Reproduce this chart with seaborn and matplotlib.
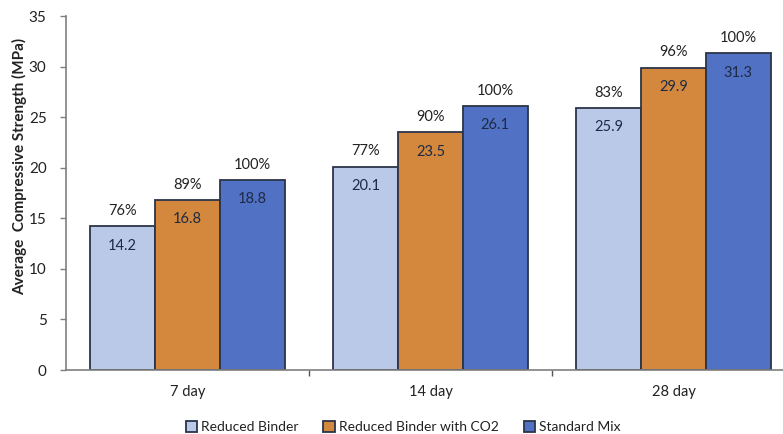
import matplotlib
matplotlib.use("Agg")
import matplotlib.pyplot as plt
import seaborn as sns
import pandas as pd

# Compressive strength results by curing age and mix design
ages = ["7 day", "14 day", "28 day"]
mixes = ["Reduced Binder", "Reduced Binder with CO2", "Standard Mix"]
reduced_binder = [14.2, 20.1, 25.9]
reduced_binder_co2 = [16.8, 23.5, 29.9]
standard_mix = [18.8, 26.1, 31.3]
pct_reduced_binder = ["76%", "77%", "83%"]
pct_reduced_binder_co2 = ["89%", "90%", "96%"]
pct_standard_mix = ["100%", "100%", "100%"]

series = [reduced_binder, reduced_binder_co2, standard_mix]
pct_labels = [pct_reduced_binder, pct_reduced_binder_co2, pct_standard_mix]

rows = []
for mix, vals in zip(mixes, series):
    for age, v in zip(ages, vals):
        rows.append({"Age": age, "Mix": mix, "Strength": v})
df = pd.DataFrame(rows)

sns.set_theme(style="white")
plt.rcParams["font.family"] = ["Lato", "DejaVu Sans"]

colors = ["#BAC9E8", "#D3883E", "#5171C4"]
edge = "#2B3448"
text_col = "#1E2A44"

fig = plt.figure(figsize=(7.83, 4.34), dpi=100)
ax = fig.add_axes([66 / 783, 64 / 434, 729 / 783, 354 / 434])

sns.barplot(data=df, x="Age", y="Strength", hue="Mix", order=ages,
            hue_order=mixes, palette=colors, width=0.8, gap=0,
            edgecolor=edge, linewidth=1.3, saturation=1, ax=ax)

ax.set_xlim(-0.5, 2.5)
ax.set_ylim(0, 35)
ax.set_yticks(range(0, 36, 5))
ax.set_xticks([0.5, 1.5], minor=True)

for cont, pcts, vals in zip(ax.containers, pct_labels, series):
    ax.bar_label(cont, labels=[f"{v:.1f}" for v in vals], padding=-19,
                 fontsize=10.5, color=text_col)
    ax.bar_label(cont, labels=pcts, padding=6, fontsize=10.5, color="#222222")

for side in ["top", "right"]:
    ax.spines[side].set_visible(False)
for side in ["left", "bottom"]:
    ax.spines[side].set_color("#7F7F7F")
    ax.spines[side].set_linewidth(1.2)

ax.tick_params(axis="y", which="major", left=True, length=4, width=1,
               color="#7F7F7F", labelsize=11, labelcolor="#222222", pad=10)
ax.tick_params(axis="x", which="major", bottom=False, labelsize=10.5,
               labelcolor="#222222", pad=5)
ax.tick_params(axis="x", which="minor", bottom=True, length=4, width=1,
               color="#555555")

ax.set_xlabel("")
ax.set_ylabel("Average  Compressive Strength (MPa)", fontsize=11,
              fontweight="bold", color="#222222")
ax.yaxis.set_label_coords(-0.053, 0.576)

handles, labels = ax.get_legend_handles_labels()
ax.legend(handles, labels, loc="center", bbox_to_anchor=(403 / 783, 7 / 434),
          bbox_transform=fig.transFigure, ncol=3, frameon=False,
          fontsize=10, handlelength=0.8, handleheight=0.8,
          handletextpad=0.3, columnspacing=1.8, labelcolor="#222222")

fig.savefig("out.png", dpi=100)
